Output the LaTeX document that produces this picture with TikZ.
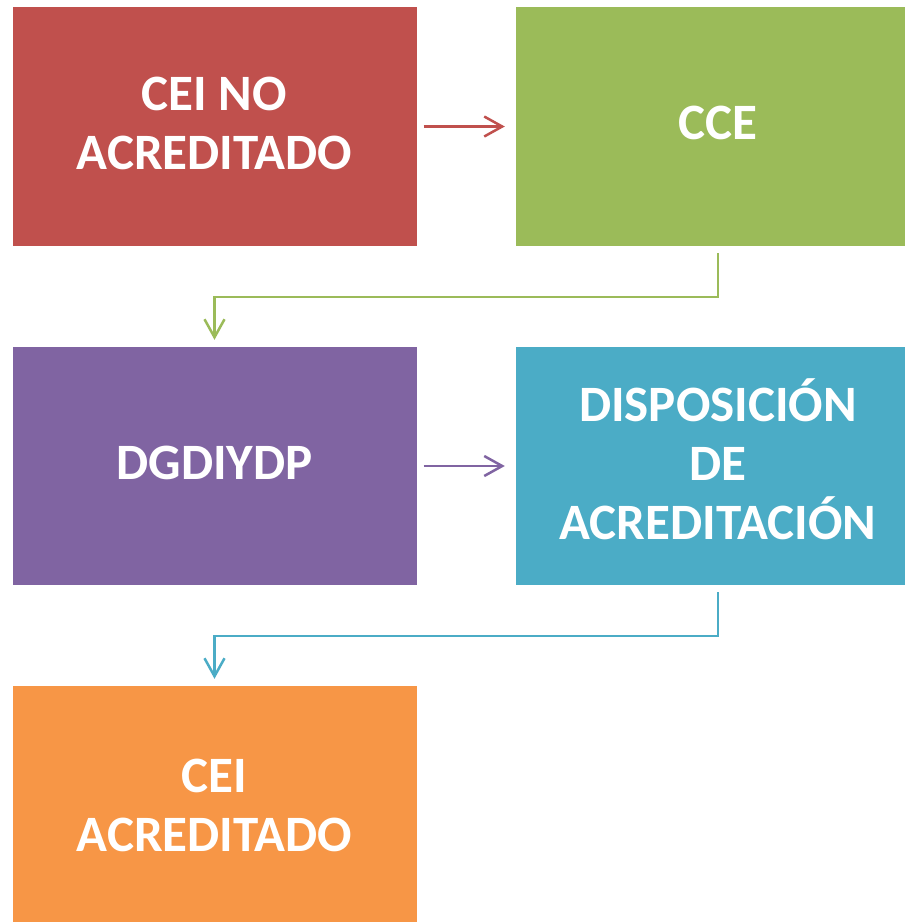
\documentclass[tikz,border=0pt]{standalone}
\usepackage{fontspec}
\setmainfont{Carlito}
\usetikzlibrary{arrows.meta}

\definecolor{ceired}{HTML}{C0504D}
\definecolor{ccegreen}{HTML}{9BBB59}
\definecolor{dgdpurple}{HTML}{8064A2}
\definecolor{dispblue}{HTML}{4BACC6}
\definecolor{ceiorange}{HTML}{F79646}

\begin{document}
\begin{tikzpicture}[x=1pt, y=1pt,
  stepbox/.style={rectangle, inner sep=0pt, minimum width=404pt, minimum height=239pt},
  boxtext/.style={inner sep=0pt, yshift=3.5pt, text=white, align=center,
    font=\fontsize{51}{59}\selectfont\bfseries},
  link/.style={line width=2.5pt, -{Straight Barb[length=18pt, width=20pt]}}]
\def\colleft{214.5}
\def\colright{718}

\useasboundingbox (0, 0) rectangle (905, -922);
\clip (0, 0) rectangle (905, -922);

% first row
\node [stepbox, fill=ceired] (ceino) at (\colleft, -126.5) {};
\node [boxtext] (ceinotext) at (ceino) {CEI NO\\ACREDITADO};
\node [stepbox, fill=ccegreen] (cce) at (\colright, -126.5) {};
\node [boxtext] (ccetext) at (cce) {CCE};

% second row
\node [stepbox, fill=dgdpurple, minimum height=238pt] (dgdiydp) at (\colleft, -466) {};
\node [boxtext] (dgdiydptext) at (dgdiydp) {DGDIYDP};
\node [stepbox, fill=dispblue, minimum height=238pt] (disp) at (\colright, -466) {};
\node [boxtext, yshift=3.5pt] (disptext) at (disp) {DISPOSICIÓN\\DE\\ACREDITACIÓN};

% last row
\node [stepbox, fill=ceiorange, minimum height=246pt] (ceiacr) at (\colleft, -809) {};
\node [boxtext] (ceiacrtext) at (ceiacr) {CEI\\ACREDITADO};

\draw [link, ceired] ([xshift=7pt]ceino.east) -- ([xshift=-11pt]cce.west);
\draw [link, ccegreen] ([yshift=-7pt]cce.south) -- ++(0, -44) -| ([yshift=7pt]dgdiydp.north);
\draw [link, dgdpurple] ([xshift=7pt]dgdiydp.east) -- ([xshift=-11pt]disp.west);
\draw [link, dispblue] ([yshift=-7pt]disp.south) -- ++(0, -44) -| ([yshift=7pt]ceiacr.north);

\end{tikzpicture}
\end{document}
